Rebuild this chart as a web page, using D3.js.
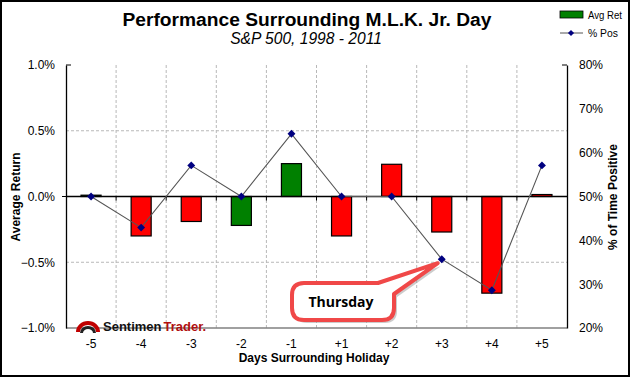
<!DOCTYPE html>
<html><head><meta charset="utf-8">
<script src="https://cdn.jsdelivr.net/npm/d3@7"></script>
<style>body{margin:0;background:#fff}svg{display:block;font-family:"Liberation Sans",Arial,sans-serif}</style>
</head><body><svg id="c" width="631" height="379"></svg>
<script>
const categories = ["-5","-4","-3","-2","-1","+1","+2","+3","+4","+5"];
const avgRet = [0.01, -0.30, -0.19, -0.22, 0.25, -0.30, 0.245, -0.27, -0.735, 0.015];
const barColors = ["#008000","#ff0000","#ff0000","#008000","#008000","#ff0000","#ff0000","#ff0000","#ff0000","#ff0000"];
const pctPos = [50, 42.9, 57.1, 50, 64.3, 50, 50, 35.7, 28.6, 57.1];
const leftTicks = [1.0, 0.5, 0.0, -0.5, -1.0];
const rightTicks = [80, 70, 60, 50, 40, 30, 20];
const title = "Performance Surrounding M.L.K. Jr. Day";
const subtitle = "S&P 500, 1998 - 2011";

const svg = d3.select("#c");
const L = 66, R = 567, T = 65, B = 328;
const x = d3.scaleBand().domain(categories).range([L, R]).paddingInner(0.6).paddingOuter(0.3);
const xb = d3.scaleBand().domain(categories).range([L, R]);
const y = d3.scaleLinear().domain([-1, 1]).range([B, T]);
const y2 = d3.scaleLinear().domain([20, 80]).range([B, T]);

// outer frame
svg.append("rect").attr("x",1).attr("y",1).attr("width",628).attr("height",375)
  .attr("fill","#fff").attr("stroke","#000").attr("stroke-width",2);

// title
svg.append("text").attr("x",307).attr("y",26).attr("text-anchor","middle")
  .attr("font-weight","bold").attr("font-size",19.2).text(title);
svg.append("text").attr("x",306).attr("y",44).attr("text-anchor","middle")
  .attr("font-style","italic").attr("font-size",15.6).text(subtitle);

// gridlines
const g = svg.append("g");
g.selectAll(".hg").data([0.5,-0.5]).join("line")
  .attr("x1",L).attr("x2",R).attr("y1",d=>y(d)).attr("y2",d=>y(d))
  .attr("stroke","#b8b8b8").attr("stroke-dasharray","3,2");
g.selectAll(".vg").data(categories.slice(1)).join("line")
  .attr("x1",d=>xb(d)).attr("x2",d=>xb(d)).attr("y1",T).attr("y2",B)
  .attr("stroke","#b8b8b8").attr("stroke-dasharray","3,2");

// bars
svg.selectAll(".bar").data(avgRet).join("rect")
  .attr("x",(d,i)=>x(categories[i]))
  .attr("width",x.bandwidth())
  .attr("y",d=>y(Math.max(0,d)))
  .attr("height",d=>Math.max(0.5,Math.abs(y(d)-y(0))))
  .attr("fill",(d,i)=>barColors[i]).attr("stroke","#000").attr("stroke-width",1.2);

// zero line and ticks
svg.append("line").attr("x1",L).attr("x2",R).attr("y1",y(0)).attr("y2",y(0)).attr("stroke","#000").attr("stroke-width",1.3);
svg.selectAll(".zt").data(categories.slice(1)).join("line")
  .attr("x1",d=>xb(d)).attr("x2",d=>xb(d)).attr("y1",y(0)).attr("y2",y(0)+4).attr("stroke","#000");

// bottom border
svg.append("line").attr("x1",L).attr("x2",R).attr("y1",B).attr("y2",B).attr("stroke","#808080").attr("stroke-width",1.5);

// left axis
const ya = svg.append("g").attr("transform",`translate(${L},0)`)
  .call(d3.axisLeft(y).tickValues(leftTicks).tickSize(0).tickPadding(11).tickFormat(d=>d3.format(".1f")(d)+"%"));
ya.select(".domain").attr("stroke","#000").attr("stroke-width",1.3);
ya.selectAll("text").attr("font-size",12).attr("font-family","Liberation Sans, Arial").attr("fill","#000");
svg.append("line").attr("x1",L).attr("x2",L+5).attr("y1",T).attr("y2",T).attr("stroke","#000");
svg.append("line").attr("x1",L-4).attr("x2",L).attr("y1",y(0)).attr("y2",y(0)).attr("stroke","#000");

// right axis
const yr = svg.append("g").attr("transform",`translate(${R},0)`)
  .call(d3.axisRight(y2).tickValues(rightTicks).tickSize(0).tickPadding(12).tickFormat(d=>d+"%"));
yr.select(".domain").attr("stroke","#000").attr("stroke-width",1.3);
yr.selectAll("text").attr("font-size",12).attr("font-family","Liberation Sans, Arial").attr("fill","#000");
svg.append("line").attr("x1",R-5).attr("x2",R).attr("y1",T).attr("y2",T).attr("stroke","#000");

// x axis labels
const xa = svg.append("g").attr("transform",`translate(0,${B})`)
  .call(d3.axisBottom(xb).tickSize(0).tickPadding(11));
xa.select(".domain").remove();
xa.selectAll("text").attr("font-size",12).attr("font-family","Liberation Sans, Arial").attr("fill","#000");

// axis titles
svg.append("text").attr("x",314).attr("y",362).attr("text-anchor","middle")
  .attr("font-weight","bold").attr("font-size",12).text("Days Surrounding Holiday");
svg.append("text").attr("transform","translate(20,197) rotate(-90)").attr("text-anchor","middle")
  .attr("font-weight","bold").attr("font-size",12).text("Average Return");
svg.append("text").attr("transform","translate(617,197) rotate(-90)").attr("text-anchor","middle")
  .attr("font-weight","bold").attr("font-size",12).text("% of Time Positive");

// line series
const cx = (d,i)=>x(categories[i])+x.bandwidth()/2;
svg.append("path").datum(pctPos)
  .attr("d",d3.line().x(cx).y(d=>y2(d)))
  .attr("fill","none").attr("stroke","#555").attr("stroke-width",1.1);
const diamond = d3.symbol().type(d3.symbolDiamond2).size(40);
svg.selectAll(".pt").data(pctPos).join("path")
  .attr("d",diamond).attr("transform",(d,i)=>`translate(${cx(d,i)},${y2(d)})`)
  .attr("fill","#000080");

// legend
svg.append("rect").attr("x",560).attr("y",11).attr("width",23).attr("height",7).attr("fill","#008000").attr("stroke","#000").attr("stroke-width",0.8);
svg.append("text").attr("x",588).attr("y",19).attr("font-size",11)
  .attr("textLength",34).attr("lengthAdjust","spacingAndGlyphs").text("Avg Ret");
svg.append("line").attr("x1",560).attr("x2",583).attr("y1",33).attr("y2",33).attr("stroke","#555");
svg.append("path").attr("d",d3.symbol().type(d3.symbolDiamond2).size(24)).attr("transform","translate(571,33)").attr("fill","#000080");
svg.append("text").attr("x",588).attr("y",37).attr("font-size",11)
  .attr("textLength",30).attr("lengthAdjust","spacingAndGlyphs").text("% Pos");

// callout
const cg = svg.append("g");
const tipX = cx(pctPos[7],7)-4, tipY = y2(pctPos[7])+4;
const bub = `M304,283 L378,283 L${tipX},${tipY} L394,294 L394,308 Q394,320 382,320 L304,320 Q292,320 292,308 L292,295 Q292,283 304,283 Z`;
cg.append("path").attr("d",bub).attr("transform","translate(3,3)").attr("fill","#999").attr("opacity",0.5);
cg.append("path").attr("d",bub).attr("fill","#fff").attr("stroke","#f04848").attr("stroke-width",4).attr("stroke-linejoin","round");
cg.append("text").attr("x",341).attr("y",307).attr("text-anchor","middle").attr("font-weight","bold").attr("font-size",14)
  .attr("font-family","Open Sans, Liberation Sans").text("Thursday");

// logo
const lg = svg.append("g");
lg.append("path").attr("d","M76,332 A12,11 0 0 1 100,332 L96,332 A8,7 0 0 0 80,332 Z").attr("fill","#c00000");
lg.append("path").attr("d","M80,333 A8,7 0 0 1 96,333 L93,333 A5,4 0 0 0 83,333 Z").attr("fill","#222");
const t1 = lg.append("text").attr("x",103).attr("y",331).attr("font-weight","bold").attr("font-size",13)
  .attr("font-family","Liberation Sans Narrow, Liberation Sans").attr("fill","#111").text("Sentimen");
const w1 = t1.node().getComputedTextLength();
lg.append("text").attr("x",103 + w1 + 2).attr("y",331).attr("font-weight","bold").attr("font-size",13)
  .attr("font-family","Liberation Sans Narrow, Liberation Sans").attr("fill","#b01010").text("Trader.");
</script></body></html>
